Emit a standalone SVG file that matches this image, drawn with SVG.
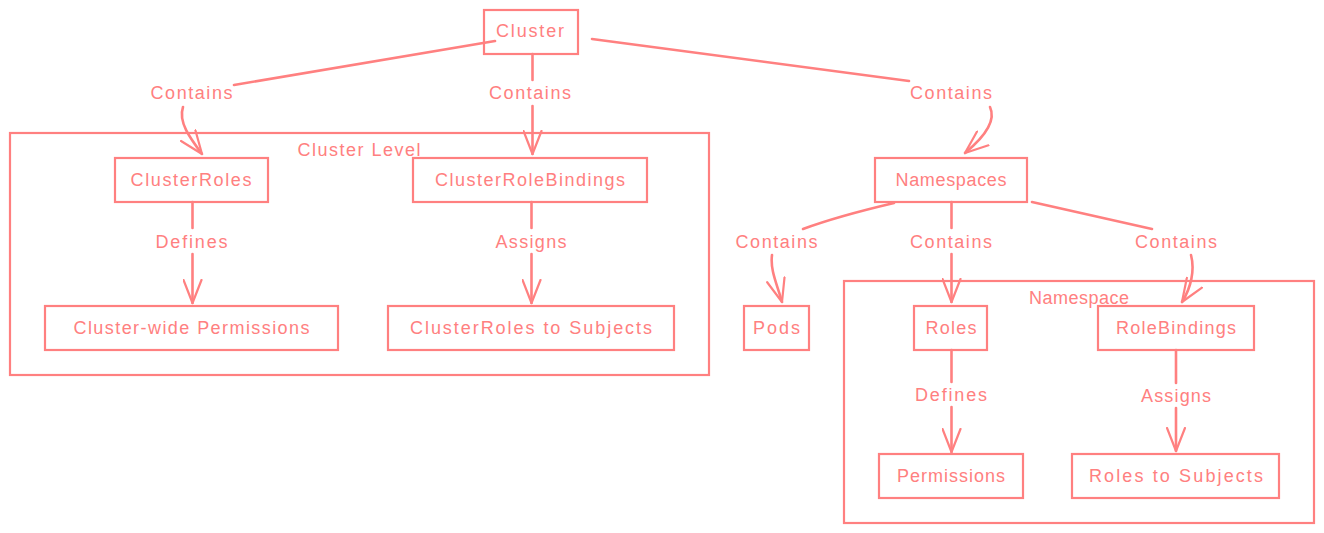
<svg xmlns="http://www.w3.org/2000/svg" width="1324" height="533" viewBox="0 0 1324 533">
<style>
  .bg{fill:#ffffff}
  .box{fill:#ffffff;stroke:#ff8080;stroke-width:2.2}
  .grp{fill:none;stroke:#ff8080;stroke-width:2.2}
  .edge{fill:none;stroke:#ff8080;stroke-width:2.6;stroke-linecap:round}
  text{font-family:"Liberation Sans",Arial,sans-serif;font-size:18px;fill:#ff8080;text-anchor:middle;dominant-baseline:central}
</style>
<defs>
  <marker id="arr" viewBox="0 0 26 20" refX="24" refY="10" markerWidth="26" markerHeight="20" markerUnits="userSpaceOnUse" orient="auto">
    <path d="M1,1 L24,10 L1,19" fill="none" stroke="#ff8080" stroke-width="2.2" stroke-linecap="round" stroke-linejoin="round"/>
  </marker>
</defs>
<rect class="bg" x="0" y="0" width="1324" height="533"/>

<g id="cluster-level">
  <rect class="grp" x="10" y="133" width="699" height="242"/>
  <text x="359" y="150" textLength="123">Cluster Level</text>
</g>
<g id="namespace-group">
  <rect class="grp" x="844" y="281" width="470" height="242"/>
  <text x="1079" y="298" textLength="100">Namespace</text>
</g>

<g id="cluster">
  <rect class="box" x="484" y="10" width="94" height="44"/>
  <text x="530" y="31" textLength="68">Cluster</text>
</g>
<g id="clusterroles">
  <rect class="box" x="115" y="158" width="153" height="44"/>
  <text x="191" y="180" textLength="121">ClusterRoles</text>
</g>
<g id="clusterrolebindings">
  <rect class="box" x="413" y="158" width="234" height="44"/>
  <text x="530" y="180" textLength="190">ClusterRoleBindings</text>
</g>
<g id="cluster-wide-permissions">
  <rect class="box" x="45" y="306" width="293" height="44"/>
  <text x="191.5" y="327.5" textLength="236">Cluster-wide Permissions</text>
</g>
<g id="clusterroles-to-subjects">
  <rect class="box" x="388" y="306" width="286" height="44"/>
  <text x="531" y="327.5" textLength="242">ClusterRoles to Subjects</text>
</g>
<g id="namespaces">
  <rect class="box" x="875" y="158" width="152" height="44"/>
  <text x="951" y="180" textLength="111">Namespaces</text>
</g>
<g id="pods">
  <rect class="box" x="744" y="306" width="65" height="44"/>
  <text x="776.5" y="327.5" textLength="47">Pods</text>
</g>
<g id="roles">
  <rect class="box" x="914" y="306" width="73" height="44"/>
  <text x="951" y="327.5" textLength="51">Roles</text>
</g>
<g id="rolebindings">
  <rect class="box" x="1098" y="306" width="156" height="44"/>
  <text x="1176" y="327.5" textLength="120">RoleBindings</text>
</g>
<g id="permissions">
  <rect class="box" x="879" y="454" width="144" height="44"/>
  <text x="951" y="475.5" textLength="108">Permissions</text>
</g>
<g id="roles-to-subjects">
  <rect class="box" x="1072" y="454" width="207" height="44"/>
  <text x="1176" y="475.5" textLength="174">Roles to Subjects</text>
</g>

<g id="connectors">
  <!-- Cluster -> ClusterRoles -->
  <path class="edge" d="M495,41 L234,85"/>
  <path class="edge" d="M183,107 C178,122 190,138 202,154" marker-end="url(#arr)"/>
  <text x="191.5" y="93" textLength="82">Contains</text>
  <!-- Cluster -> ClusterRoleBindings -->
  <path class="edge" d="M532.5,54 L532.5,80"/>
  <path class="edge" d="M532.5,106 L532.5,154" marker-end="url(#arr)"/>
  <text x="530" y="93" textLength="82">Contains</text>
  <!-- Cluster -> Namespaces -->
  <path class="edge" d="M592,39 L909,81"/>
  <path class="edge" d="M990,107 C997,122 982,139 965,153" marker-end="url(#arr)"/>
  <text x="951" y="93" textLength="82">Contains</text>
  <!-- ClusterRoles -> Cluster-wide Permissions -->
  <path class="edge" d="M192.5,202 L192.5,228"/>
  <path class="edge" d="M192.5,254 L192.5,303" marker-end="url(#arr)"/>
  <text x="191.5" y="241.5" textLength="72">Defines</text>
  <!-- ClusterRoleBindings -> ClusterRoles to Subjects -->
  <path class="edge" d="M531.5,202 L531.5,228"/>
  <path class="edge" d="M531.5,254 L531.5,303" marker-end="url(#arr)"/>
  <text x="531" y="241.5" textLength="71">Assigns</text>
  <!-- Namespaces -> Pods -->
  <path class="edge" d="M894,203 C860,211 830,219 803,229"/>
  <path class="edge" d="M772,255 C770,270 777,284 782,302" marker-end="url(#arr)"/>
  <text x="776.5" y="241.5" textLength="82">Contains</text>
  <!-- Namespaces -> Roles -->
  <path class="edge" d="M951.5,202 L951.5,228"/>
  <path class="edge" d="M951.5,254 L951.5,302" marker-end="url(#arr)"/>
  <text x="951" y="241.5" textLength="82">Contains</text>
  <!-- Namespaces -> RoleBindings -->
  <path class="edge" d="M1032,202 L1152,229"/>
  <path class="edge" d="M1191,255 C1195,270 1191,288 1182,302" marker-end="url(#arr)"/>
  <text x="1176" y="241.5" textLength="82">Contains</text>
  <!-- Roles -> Permissions -->
  <path class="edge" d="M951.5,350 L951.5,382"/>
  <path class="edge" d="M951.5,407 L951.5,452" marker-end="url(#arr)"/>
  <text x="951" y="394.5" textLength="72">Defines</text>
  <!-- RoleBindings -> Roles to Subjects -->
  <path class="edge" d="M1176,350 L1176,383"/>
  <path class="edge" d="M1176,408 L1176,451" marker-end="url(#arr)"/>
  <text x="1176" y="396" textLength="70">Assigns</text>
</g>
</svg>
